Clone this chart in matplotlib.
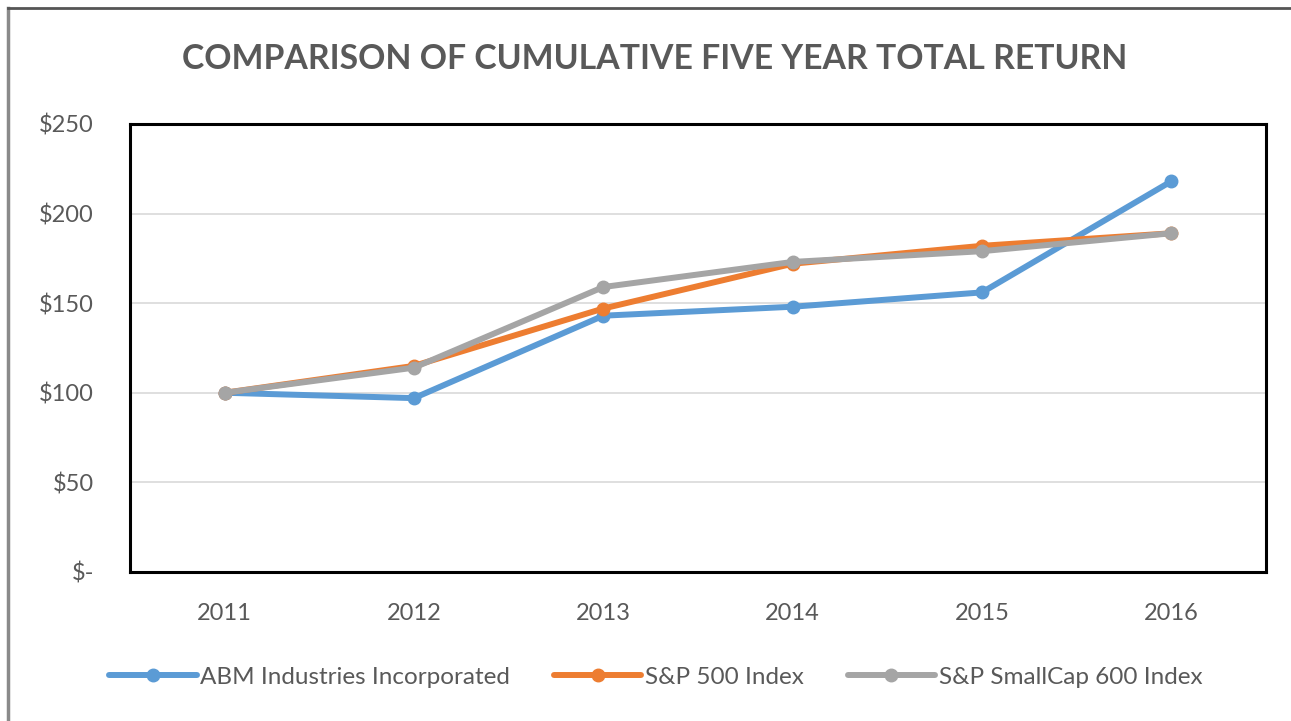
import matplotlib
matplotlib.use("Agg")
import matplotlib.pyplot as plt
from matplotlib.lines import Line2D

# data
years = ["2011", "2012", "2013", "2014", "2015", "2016"]
abm = [100, 97, 143, 148, 156, 218]
sp500 = [100, 115, 147, 172, 182, 189]
smallcap = [100, 114, 159, 173, 179, 189]
series_names = ["ABM Industries Incorporated", "S&P 500 Index", "S&P SmallCap 600 Index"]
yticks = [0, 50, 100, 150, 200, 250]
ytick_labels = ["$-", "$50", "$100", "$150", "$200", "$250"]

colors = ["#5B9BD5", "#ED7D31", "#A5A5A5"]
txt = "#595959"

plt.rcParams['font.family'] = ['Lato', 'DejaVu Sans']

fig = plt.figure(figsize=(12.91, 7.21), dpi=100)
ax = fig.add_axes([0.1007, 0.2067, 0.8799, 0.6214])

x = range(len(years))
for vals, name, c in zip([abm, sp500, smallcap], series_names, colors):
    ax.plot(x, vals, color=c, lw=4.3, marker="o", ms=9, label=name,
            solid_capstyle="round", solid_joinstyle="round")

ax.set_xlim(-0.5, len(years) - 0.5)
ax.set_ylim(0, 250)
ax.set_xticks(list(x))
ax.set_xticklabels(years)
ax.set_yticks(yticks)
ax.set_yticklabels(ytick_labels)
ax.tick_params(length=0, colors=txt, labelsize=17)
ax.tick_params(axis="x", pad=22)
ax.tick_params(axis="y", pad=26)
ax.grid(axis="y", color="#D9D9D9", lw=1.2)
ax.set_axisbelow(True)
for s in ax.spines.values():
    s.set_color("black")
    s.set_linewidth(2.2)

fig.text(0.507, 0.918, "COMPARISON OF CUMULATIVE FIVE YEAR TOTAL RETURN",
         ha="center", va="center", fontsize=24.3, fontweight="bold", color=txt)

fig.legend(loc="center", bbox_to_anchor=(0.508, 0.061), ncol=3, frameon=False,
           fontsize=17.5, handlelength=3.6, handletextpad=0.15, columnspacing=1.8,
           labelcolor=txt)

# outer frame (left and top edges only visible)
fig.add_artist(Line2D([8/1291, 8/1291], [0, 1 - 8/721], transform=fig.transFigure,
                      color="#8a8a8a", lw=2.5))
fig.add_artist(Line2D([8/1291, 1], [1 - 8/721, 1 - 8/721], transform=fig.transFigure,
                      color="#555555", lw=2))

fig.savefig("out.png", dpi=100)
